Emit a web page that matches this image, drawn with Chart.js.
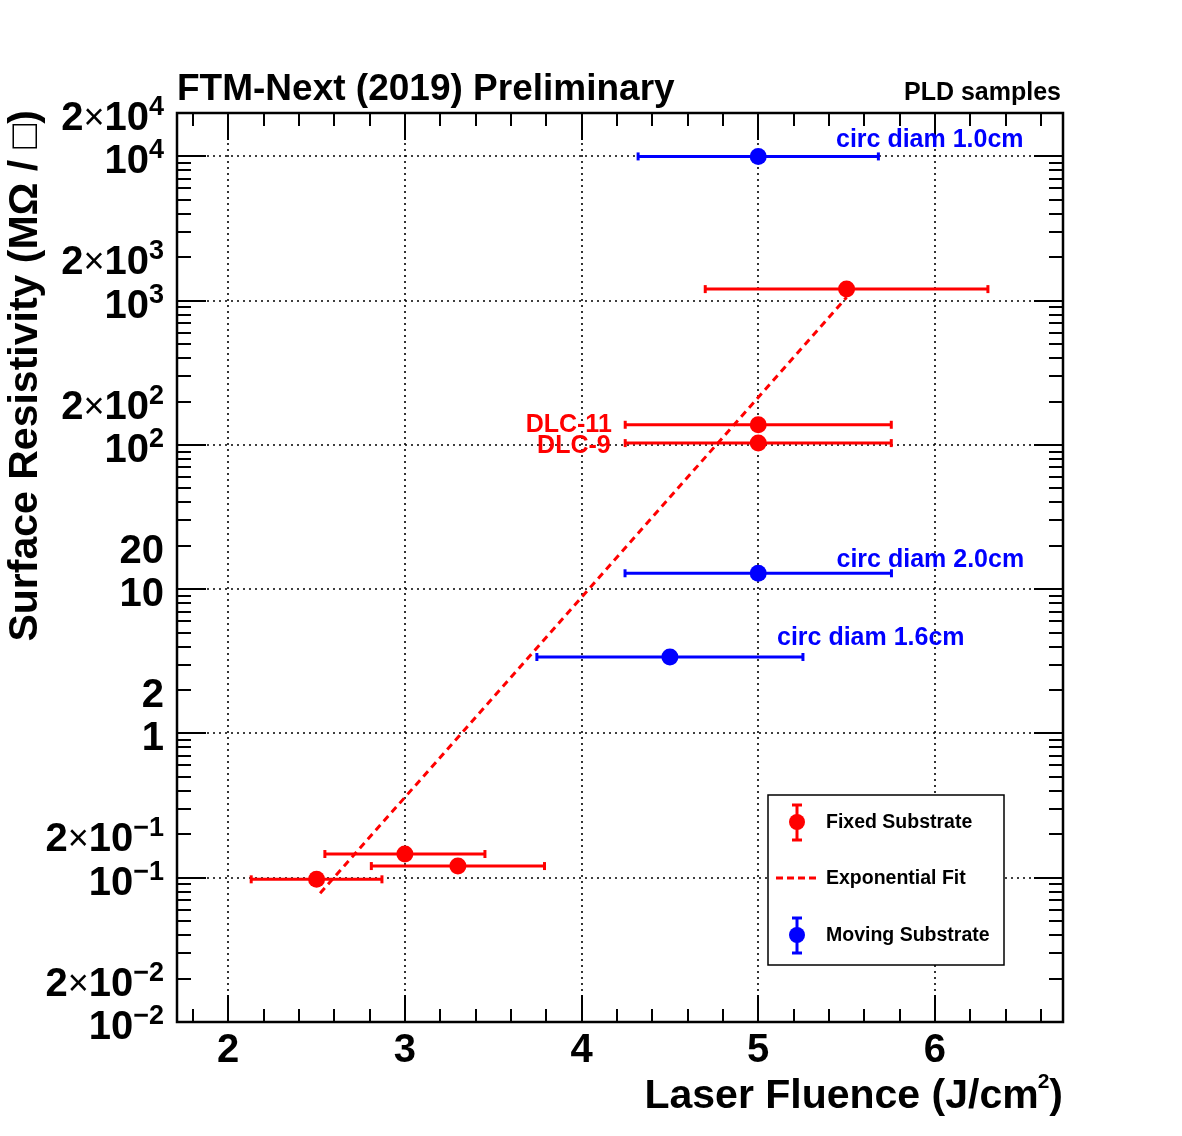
<!DOCTYPE html>
<html>
<head>
<meta charset="utf-8">
<script src="https://cdn.jsdelivr.net/npm/chart.js@4.4.1/dist/chart.umd.min.js"></script>
<style>
  html, body { margin: 0; padding: 0; background: #fff; }
  canvas { display: block; }
</style>
</head>
<body>
<canvas id="resChart" width="1182" height="1136"></canvas>
<script>
const FONT = '"Liberation Sans", Arial, Helvetica, sans-serif';

// fixed substrate (red)
const fixedX = [2.5, 3.0, 3.3, 5.0, 5.0, 5.5];
const fixedY = [0.0975, 0.146, 0.1205, 103, 138, 1203];
const fixedXErr = [0.37, 0.453, 0.49, 0.753, 0.753, 0.80];

// moving substrate (blue)
const movingX = [5.0, 5.0, 4.5];
const movingY = [10000, 12.9, 3.39];
const movingXErr = [0.68, 0.754, 0.753];

// exponential fit end points
const fitX = [2.52, 5.5];
const fitY = [0.078, 1055];

// axes
const xMajor = [2, 3, 4, 5, 6];
const xLabels = ['2', '3', '4', '5', '6'];
const yMajor = [0.01, 0.1, 1, 10, 100, 1000, 10000];
const yLabelValues = [0.01, 0.02, 0.1, 0.2, 1, 2, 10, 20, 100, 200, 1000, 2000, 10000, 20000];
const yLabels = ['10^\u22122', '2\u00d710^\u22122', '10^\u22121', '2\u00d710^\u22121', '1', '2', '10', '20',
                 '10^2', '2\u00d710^2', '10^3', '2\u00d710^3', '10^4', '2\u00d710^4'];

// point labels
const noteText = ['circ diam 1.0cm', 'circ diam 2.0cm', 'circ diam 1.6cm', 'DLC-11', 'DLC-9'];
const noteX = [5.44, 5.443, 5.106, 4.171, 4.165];
const noteY = [11620, 14.35, 4.11, 123.8, 87.7];
const noteColor = ['#0000ff', '#0000ff', '#0000ff', '#ff0000', '#ff0000'];
const noteAlign = ['left', 'left', 'left', 'right', 'right'];

function pts(xs, ys) {
  return xs.map((v, i) => ({x: v, y: ys[i]}));
}

function seg(ctx, x0, y0, x1, y1) {
  ctx.beginPath();
  ctx.moveTo(x0, y0);
  ctx.lineTo(x1, y1);
  ctx.stroke();
}

// draws things like 2x10^4 right aligned
function powLabel(ctx, label, xRight, yBase) {
  const parts = [];
  let main = label, exp = null;
  if (label.indexOf('^') >= 0) {
    main = label.split('^')[0];
    exp = label.split('^')[1];
  }
  if (main.indexOf('\u00d7') >= 0) {
    parts.push({t: main.split('\u00d7')[0], f: 'bold 40px ' + FONT, dy: 0});
    parts.push({t: '\u00d7', f: '36px ' + FONT, dy: -1});
    parts.push({t: main.split('\u00d7')[1], f: 'bold 40px ' + FONT, dy: 0});
  } else {
    parts.push({t: main, f: 'bold 40px ' + FONT, dy: 0});
  }
  if (exp) parts.push({t: exp, f: 'bold 27px ' + FONT, dy: -15});
  let w = 0;
  parts.forEach(p => { ctx.font = p.f; p.w = ctx.measureText(p.t).width; w += p.w; });
  let x = xRight - w;
  ctx.textAlign = 'left';
  parts.forEach(p => {
    ctx.font = p.f;
    ctx.fillText(p.t, x, yBase + p.dy);
    x += p.w;
  });
}

function errMarker(ctx, cx, cy, color) {
  ctx.strokeStyle = color;
  ctx.fillStyle = color;
  ctx.lineWidth = 3;
  ctx.setLineDash([]);
  seg(ctx, cx, cy - 17, cx, cy + 18);
  seg(ctx, cx - 5, cy - 17, cx + 5, cy - 17);
  seg(ctx, cx - 5, cy + 18, cx + 5, cy + 18);
  ctx.beginPath();
  ctx.arc(cx, cy, 8, 0, Math.PI * 2);
  ctx.fill();
}

const rootStyle = {
  id: 'rootStyle',
  beforeDatasetsDraw(chart) {
    const {ctx, chartArea: a, scales: {x, y}} = chart;
    ctx.save();
    ctx.strokeStyle = '#000';
    ctx.lineWidth = 1.6;
    ctx.setLineDash([2, 4]);
    xMajor.forEach(v => {
      const px = Math.round(x.getPixelForValue(v));
      seg(ctx, px, a.top, px, a.bottom);
    });
    yMajor.forEach(v => {
      const py = Math.round(y.getPixelForValue(v));
      if (py > a.top + 1 && py < a.bottom - 1) seg(ctx, a.left, py, a.right, py);
    });
    ctx.restore();
  },
  beforeDatasetDraw(chart, args) {
    const ds = chart.data.datasets[args.index];
    if (!ds.xErr) return;
    const {ctx, scales: {x, y}} = chart;
    ctx.save();
    ctx.strokeStyle = ds.borderColor;
    ctx.lineWidth = 3;
    ds.data.forEach((p, i) => {
      const x0 = x.getPixelForValue(p.x - ds.xErr[i]);
      const x1 = x.getPixelForValue(p.x + ds.xErr[i]);
      const py = y.getPixelForValue(p.y);
      seg(ctx, x0, py, x1, py);
      seg(ctx, x0, py - 4, x0, py + 4);
      seg(ctx, x1, py - 4, x1, py + 4);
    });
    ctx.restore();
  },
  afterDatasetsDraw(chart) {
    const {ctx, chartArea: a, scales: {x, y}} = chart;
    ctx.save();
    ctx.strokeStyle = '#000';
    ctx.fillStyle = '#000';
    ctx.setLineDash([]);

    // ticks inside the frame
    ctx.lineWidth = 2;
    for (let v = 1.8; v <= 6.71; v += 0.2) {
      const major = Math.abs(v - Math.round(v)) < 1e-6;
      const len = major ? 27 : 13;
      const px = Math.round(x.getPixelForValue(v));
      seg(ctx, px, a.bottom, px, a.bottom - len);
      seg(ctx, px, a.top, px, a.top + len);
    }
    for (let e = -2; e <= 4; e++) {
      for (let m = 1; m <= 9; m++) {
        const v = m * Math.pow(10, e);
        if (v > 20000) break;
        const len = m === 1 ? 29 : 14;
        const py = Math.round(y.getPixelForValue(v));
        seg(ctx, a.left, py, a.left + len, py);
        seg(ctx, a.right, py, a.right - len, py);
      }
    }

    // frame
    ctx.lineWidth = 2.5;
    ctx.strokeRect(a.left, a.top, a.right - a.left, a.bottom - a.top);

    // tick labels
    ctx.textBaseline = 'alphabetic';
    ctx.font = 'bold 40px ' + FONT;
    ctx.textAlign = 'center';
    xMajor.forEach((v, i) => {
      ctx.fillText(xLabels[i], x.getPixelForValue(v), a.bottom + 40);
    });
    yLabelValues.forEach((v, i) => {
      powLabel(ctx, yLabels[i], a.left - 13, y.getPixelForValue(v) + 17);
    });

    // axis titles
    ctx.textAlign = 'right';
    ctx.font = 'bold 41px ' + FONT;
    const close = ctx.measureText(')').width;
    ctx.fillText(')', a.right, a.bottom + 86);
    ctx.font = 'bold 21px ' + FONT;
    const sup = ctx.measureText('2').width;
    ctx.fillText('2', a.right - close, a.bottom + 66);
    ctx.font = 'bold 41px ' + FONT;
    ctx.fillText('Laser Fluence (J/cm', a.right - close - sup + 1, a.bottom + 86);

    ctx.save();
    ctx.translate(37, a.top - 3);
    ctx.rotate(-Math.PI / 2);
    ctx.textAlign = 'right';
    ctx.font = 'bold 41px ' + FONT;
    ctx.fillText('Surface Resistivity (M\u03a9 / \u25a1)', 0, 0);
    ctx.restore();

    // titles above the frame
    ctx.textAlign = 'left';
    ctx.font = 'bold 37px ' + FONT;
    ctx.fillText('FTM-Next (2019) Preliminary', 177, 100);
    ctx.textAlign = 'right';
    ctx.font = 'bold 25px ' + FONT;
    ctx.fillText('PLD samples', 1061, 100);

    // point labels
    ctx.font = 'bold 25px ' + FONT;
    noteText.forEach((t, i) => {
      ctx.fillStyle = noteColor[i];
      ctx.textAlign = noteAlign[i];
      ctx.fillText(t, x.getPixelForValue(noteX[i]), y.getPixelForValue(noteY[i]));
    });

    // legend
    ctx.fillStyle = '#fff';
    ctx.fillRect(768, 795, 236, 170);
    ctx.strokeStyle = '#000';
    ctx.lineWidth = 1.5;
    ctx.strokeRect(768, 795, 236, 170);
    errMarker(ctx, 797, 822, '#ff0000');
    errMarker(ctx, 797, 935, '#0000ff');
    ctx.strokeStyle = '#ff0000';
    ctx.lineWidth = 3;
    ctx.setLineDash([7, 4]);
    seg(ctx, 776, 878, 819, 878);
    ctx.setLineDash([]);
    ctx.fillStyle = '#000';
    ctx.textAlign = 'left';
    ctx.textBaseline = 'middle';
    ctx.font = 'bold 19.5px ' + FONT;
    ctx.fillText('Fixed Substrate', 826, 823);
    ctx.fillText('Exponential Fit', 826, 879);
    ctx.fillText('Moving Substrate', 826, 936);
    ctx.restore();
  }
};

new Chart(document.getElementById('resChart'), {
  type: 'scatter',
  data: {
    datasets: [
      {
        label: 'Fixed Substrate',
        data: pts(fixedX, fixedY),
        xErr: fixedXErr,
        borderColor: '#ff0000',
        backgroundColor: '#ff0000',
        pointRadius: 8.5,
        borderWidth: 0
      },
      {
        label: 'Moving Substrate',
        data: pts(movingX, movingY),
        xErr: movingXErr,
        borderColor: '#0000ff',
        backgroundColor: '#0000ff',
        pointRadius: 8.5,
        borderWidth: 0
      },
      {
        label: 'Exponential Fit',
        type: 'line',
        data: pts(fitX, fitY),
        borderColor: '#ff0000',
        borderWidth: 3,
        borderDash: [7, 5],
        pointRadius: 0,
        fill: false
      }
    ]
  },
  options: {
    responsive: false,
    animation: false,
    layout: { padding: { left: 177, top: 113, right: 119, bottom: 114 } },
    plugins: { legend: { display: false }, tooltip: { enabled: false } },
    scales: {
      x: { type: 'linear', min: 1.71, max: 6.725, display: false },
      y: { type: 'logarithmic', min: 0.01, max: 20000, display: false }
    }
  },
  plugins: [rootStyle]
});
</script>
</body>
</html>
